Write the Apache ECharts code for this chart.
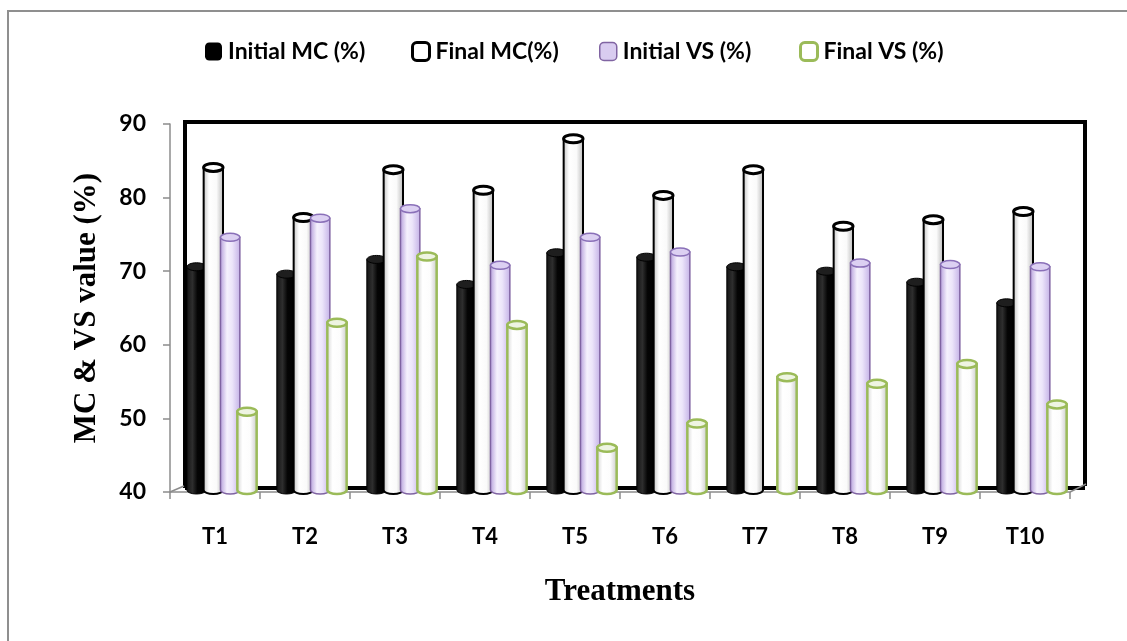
<!DOCTYPE html>
<html>
<head>
<meta charset="utf-8">
<script src="https://cdn.jsdelivr.net/npm/echarts@6/dist/echarts.min.js"></script>
<style>html,body{margin:0;padding:0;background:#fff;}#c{width:1127px;height:641px;}</style>
</head>
<body>
<div id="c"></div>
<script>
const categories = ['T1','T2','T3','T4','T5','T6','T7','T8','T9','T10'];
const seriesNames = ['Initial MC (%)','Final MC(%)','Initial VS (%)','Final VS (%)'];
const initialMC = [70.6, 69.6, 71.6, 68.2, 72.5, 71.9, 70.6, 70.0, 68.5, 65.7];
const finalMC   = [84.1, 77.3, 83.8, 81.0, 88.0, 80.3, 83.8, 76.1, 77.0, 78.1];
const initialVS = [74.6, 77.2, 78.5, 70.8, 74.6, 72.6, null, 71.1, 70.9, 70.6];
const finalVS   = [50.9, 63.0, 72.0, 62.7, 46.0, 49.3, 55.6, 54.7, 57.4, 51.9];
const yTicks = [40, 50, 60, 70, 80, 90];

const styles = [
  {fill:[[0,'#141414'],[0.3,'#2e2e2e'],[0.55,'#050505'],[1,'#000']], stroke:'#000', lw:1, top:'#1e1e1e', topStroke:'#000', topLw:1},
  {fill:[[0,'#bdbdbd'],[0.3,'#ffffff'],[0.65,'#fafafa'],[1,'#b5b5b5']], stroke:'#000', lw:2, top:'#ffffff', topStroke:'#000', topLw:3},
  {fill:[[0,'#b29ad9'],[0.35,'#f6f2fd'],[0.6,'#ece5fa'],[1,'#c2afe6']], stroke:'#8064a2', lw:1.5, top:'#dcd0f2', topStroke:'#8a70b8', topLw:1.5},
  {fill:[[0,'#cfcfcf'],[0.3,'#ffffff'],[0.65,'#fcfcfc'],[1,'#c4c4c4']], stroke:'#9bbb59', lw:2.5, top:'#eef4e2', topStroke:'#9bbb59', topLw:2.5}
];
const legendColors = [
  {color:'#000', borderColor:'#000', borderWidth:0},
  {color:'#fff', borderColor:'#000', borderWidth:3},
  {color:'#d9ccf0', borderColor:'#8064a2', borderWidth:1.5},
  {color:'#fff', borderColor:'#9bbb59', borderWidth:3}
];
const legendLefts = [205, 411, 599, 799];
const allValues = [initialMC, finalMC, initialVS, finalVS];

function makeRender(si){
  const st = styles[si];
  return function(params, api){
    const v = api.value(1);
    if (v == null || isNaN(v)) return null;
    const ci = api.value(0);
    const bw = api.size([1,0])[0];
    const w = bw*0.215;
    const cx = api.coord([ci, v])[0] + ((si-1.5)*0.187 + 0.075)*bw;
    const yTop = api.coord([ci, v])[1];
    const yBot = api.coord([ci, yTicks[0]])[1] - 2;
    const rx = w/2, ry = 4;
    const l = cx-rx, r = cx+rx;
    const grad = new echarts.graphic.LinearGradient(0,0,1,0, st.fill.map(s=>({offset:s[0],color:s[1]})));
    return {
      type:'group',
      children:[
        {type:'path', shape:{pathData:`M${l},${yTop} L${l},${yBot} A${rx},${ry} 0 0 0 ${r},${yBot} L${r},${yTop} Z`},
         style:{fill:grad, stroke:st.stroke, lineWidth:st.lw}},
        {type:'ellipse', shape:{cx:cx, cy:yTop, rx:rx, ry:ry},
         style:{fill:st.top, stroke:st.topStroke, lineWidth:st.topLw}}
      ]
    };
  };
}

const chart = echarts.init(document.getElementById('c'), null, {renderer:'canvas'});
chart.setOption({
  animation:false,
  backgroundColor:'#fff',
  textStyle:{fontFamily:'Lato'},
  legend: seriesNames.map((n,i)=>({
    top:40, left:legendLefts[i], itemWidth:17, itemHeight:18, itemGap:0, icon:'roundRect',
    padding:0,
    textStyle:{fontFamily:'Lato', fontWeight:'bold', fontSize:23, color:'#000', padding:[0,0,0,1]},
    data:[{name:n, itemStyle:legendColors[i]}]
  })),
  grid:{left:170, right:57, top:124, bottom:149},
  xAxis:{
    type:'category', data:categories,
    name:'Treatments', nameLocation:'middle', nameGap:84,
    nameTextStyle:{fontFamily:'Liberation Serif', fontWeight:'bold', fontSize:31, color:'#000'},
    axisLine:{lineStyle:{color:'#8c8c8c', width:1.5}},
    axisTick:{show:true, length:7, lineStyle:{color:'#8c8c8c', width:1.5}},
    axisLabel:{fontFamily:'Lato', fontWeight:'bold', fontSize:22, color:'#000', margin:34}
  },
  yAxis:{
    type:'value', min:40, max:90, interval:10,
    name:'MC & VS value (%)', nameLocation:'middle', nameGap:68, nameRotate:90,
    nameTextStyle:{fontFamily:'Liberation Serif', fontWeight:'bold', fontSize:31, color:'#000'},
    axisLine:{show:true, lineStyle:{color:'#8c8c8c', width:1.5}},
    axisTick:{show:true, length:7, lineStyle:{color:'#8c8c8c', width:1.5}},
    splitLine:{show:false},
    axisLabel:{fontFamily:'Lato', fontWeight:'bold', fontSize:23, color:'#000', margin:24}
  },
  graphic:[
    {type:'rect', z:-10, shape:{x:8, y:11, width:1200, height:700}, style:{fill:'none', stroke:'#8f8f8f', lineWidth:2}},
    {type:'polyline', z:-5, shape:{points:[[185,488],[185,122],[1085,122],[1085,486]]}, style:{fill:'none', stroke:'#000', lineWidth:4}},
    {type:'line', z:-5, shape:{x1:185, y1:488, x2:1085, y2:488}, style:{stroke:'#000', lineWidth:4}},
    {type:'polyline', z:-4, shape:{points:[[170,492],[184,486]]}, style:{stroke:'#8c8c8c', lineWidth:1.5}},
    {type:'polyline', z:-4, shape:{points:[[1070,492],[1086,484]]}, style:{stroke:'#8c8c8c', lineWidth:1.5}}
  ],
  series: seriesNames.map((n,si)=>({
    name:n, type:'custom', renderItem:makeRender(si),
    itemStyle:{color:legendColors[si].color, borderColor:legendColors[si].borderColor},
    encode:{x:0, y:1},
    data: allValues[si].map((v,i)=>[i, v])
  }))
});
</script>
</body>
</html>
